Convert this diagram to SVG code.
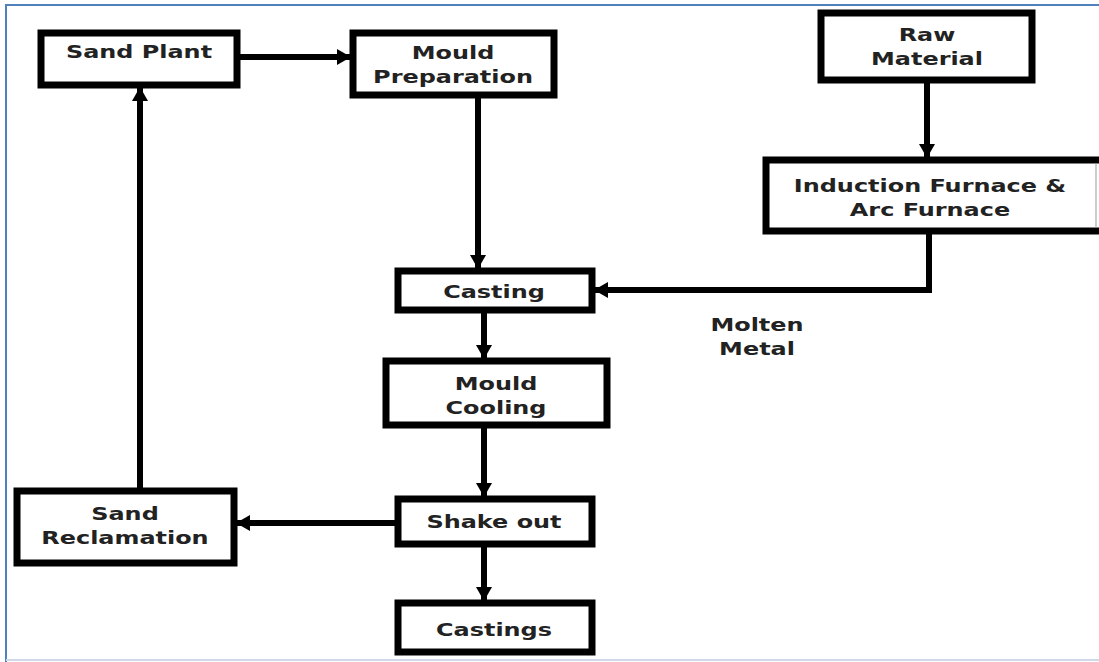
<svg xmlns="http://www.w3.org/2000/svg" width="1099" height="662" viewBox="0 0 1099 662">
<style>
.box{fill:#fff;stroke:#000;stroke-width:7}
.t{font-family:"DejaVu Sans","Verdana",sans-serif;font-weight:bold;font-size:18px;fill:#222;text-anchor:middle}
.c{fill:none;stroke:#000;stroke-width:6}
</style>
<defs>
<marker id="ah" markerUnits="userSpaceOnUse" markerWidth="14" markerHeight="16" refX="13" refY="8" orient="auto">
<path d="M0,0 L14,8 L0,16 z" fill="#000"/>
</marker>
</defs>
<rect x="0" y="0" width="1099" height="662" fill="#fff"/>
<path d="M6,662 V5 H1099" fill="none" stroke="#4f81bd" stroke-width="2"/>
<line x1="6" y1="660" x2="1099" y2="660" stroke="#d0d8e8" stroke-width="2"/>
<g id="connectors">
<line class="c" x1="240" y1="57" x2="350" y2="57" marker-end="url(#ah)"/>
<line class="c" x1="140" y1="488" x2="140" y2="88" marker-end="url(#ah)"/>
<line class="c" x1="478" y1="98" x2="478" y2="268" marker-end="url(#ah)"/>
<line class="c" x1="927" y1="83" x2="927" y2="157" marker-end="url(#ah)"/>
<polyline class="c" points="929,234 929,290 595,290" marker-end="url(#ah)"/>
<line class="c" x1="484" y1="313" x2="484" y2="358" marker-end="url(#ah)"/>
<line class="c" x1="484" y1="428" x2="484" y2="496" marker-end="url(#ah)"/>
<line class="c" x1="395" y1="523" x2="237" y2="523" marker-end="url(#ah)"/>
<line class="c" x1="484" y1="547" x2="484" y2="600" marker-end="url(#ah)"/>
</g>
<g id="sand-plant">
<rect class="box" x="41" y="33" width="196" height="52"/>
<text class="t" transform="translate(139,58) scale(1.33,1)">Sand Plant</text>
</g>
<g id="mould-preparation">
<rect class="box" x="353" y="33" width="201" height="62"/>
<text class="t" transform="translate(453,59) scale(1.33,1)">Mould</text>
<text class="t" transform="translate(453,83) scale(1.33,1)">Preparation</text>
</g>
<g id="raw-material">
<rect class="box" x="821" y="13" width="211" height="67"/>
<text class="t" transform="translate(927,41) scale(1.33,1)">Raw</text>
<text class="t" transform="translate(927,65) scale(1.33,1)">Material</text>
</g>
<g id="induction-furnace">
<rect class="box" x="766" y="160" width="337" height="71"/>
<line x1="1096" y1="163" x2="1096" y2="228" stroke="#999" stroke-width="1"/>
<text class="t" transform="translate(930,192) scale(1.33,1)">Induction Furnace &amp;</text>
<text class="t" transform="translate(930,216) scale(1.33,1)">Arc Furnace</text>
</g>
<g id="casting">
<rect class="box" x="398" y="271" width="194" height="39"/>
<text class="t" transform="translate(494,298) scale(1.33,1)">Casting</text>
</g>
<g id="molten-metal">
<text class="t" transform="translate(757,331) scale(1.33,1)">Molten</text>
<text class="t" transform="translate(757,355) scale(1.33,1)">Metal</text>
</g>
<g id="mould-cooling">
<rect class="box" x="386" y="361" width="221" height="64"/>
<text class="t" transform="translate(496,390) scale(1.33,1)">Mould</text>
<text class="t" transform="translate(496,414) scale(1.33,1)">Cooling</text>
</g>
<g id="shake-out">
<rect class="box" x="398" y="499" width="194" height="45"/>
<text class="t" transform="translate(494,528) scale(1.33,1)">Shake out</text>
</g>
<g id="castings">
<rect class="box" x="398" y="603" width="194" height="49"/>
<text class="t" transform="translate(494,636) scale(1.33,1)">Castings</text>
</g>
<g id="sand-reclamation">
<rect class="box" x="17" y="491" width="217" height="72"/>
<text class="t" transform="translate(125,520) scale(1.33,1)">Sand</text>
<text class="t" transform="translate(125,544) scale(1.33,1)">Reclamation</text>
</g>
</svg>
